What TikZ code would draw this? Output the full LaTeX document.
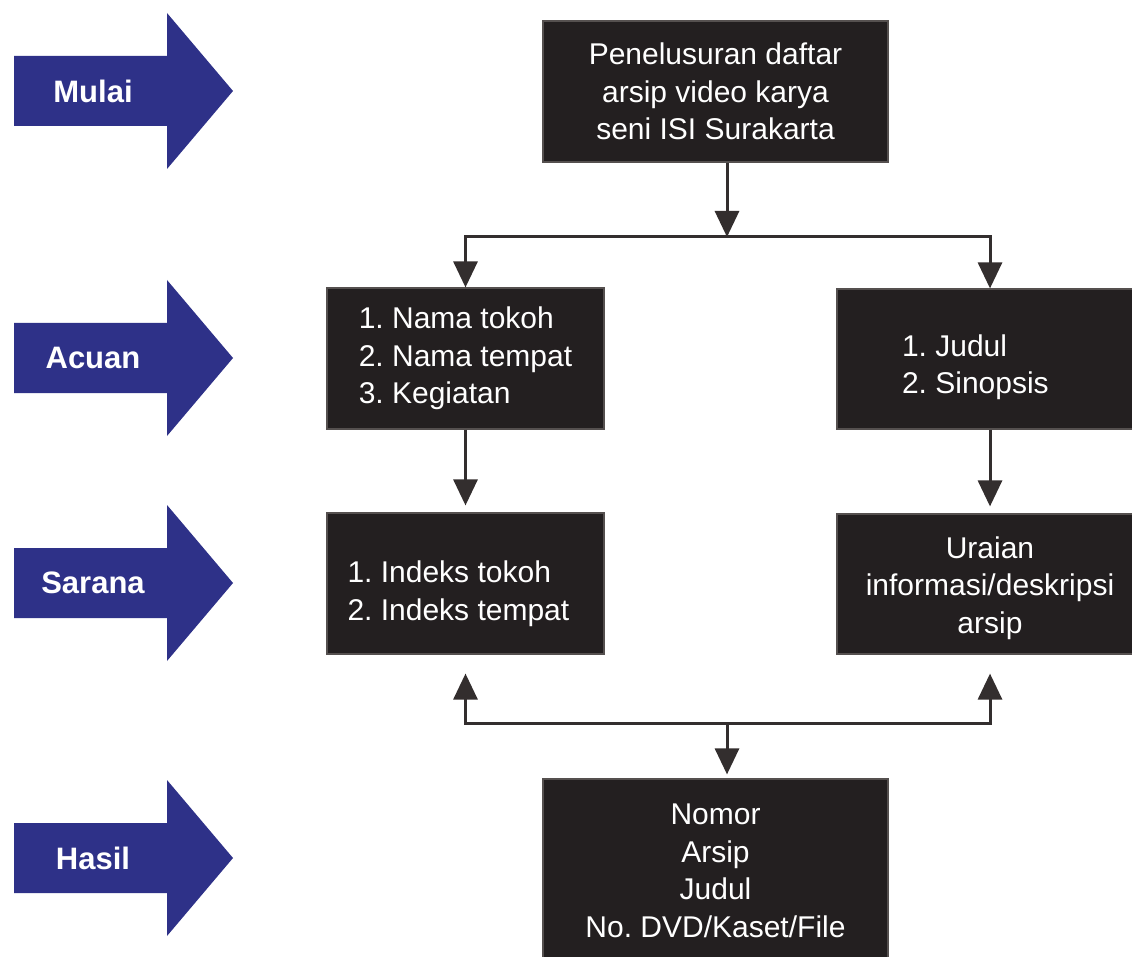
\documentclass[tikz,border=0pt]{standalone}
\usepackage{fontspec}
\setmainfont{Liberation Sans}
\usetikzlibrary{arrows.meta}
\definecolor{stageblue}{HTML}{2E3188}
\definecolor{boxfill}{HTML}{231F20}
\definecolor{boxedge}{HTML}{55504F}
\definecolor{linecol}{HTML}{332E2E}
\frenchspacing
\newcommand\shiftdown[2]{\raisebox{-#1}[\height][\depth]{#2}}
\begin{document}
\begin{tikzpicture}[x=1pt,y=-1pt,
  box/.style={draw=boxedge, line width=1.2pt, fill=boxfill, text=white,
    font=\fontsize{30}{37.5}\selectfont, inner sep=0pt},
  conn/.style={draw=linecol, line width=3pt, -{Triangle[width=24pt,length=26pt]}},
  stagelabel/.style={text=white, font=\bfseries\fontsize{31}{36}\selectfont, inner sep=0pt},
  stagearrow/.pic={\fill[stageblue] (0,-35) -- (153,-35) -- (153,-78) -- (219,0)
     -- (153,78) -- (153,35) -- (0,35) -- cycle;}
]
\clip (0,0) rectangle (1132,957);
\fill[white] (0,0) rectangle (1132,957);

% stage arrows
\pic at (14,91) {stagearrow};
\node[stagelabel] (mulai) at (93,91) {Mulai};
\pic at (14,358) {stagearrow};
\node[stagelabel] (acuan) at (93,358) {Acuan};
\pic at (14,583) {stagearrow};
\node[stagelabel] (sarana) at (93,583) {Sarana};
\pic at (14,858) {stagearrow};
\node[stagelabel] (hasillbl) at (93,858) {Hasil};

% boxes
\node[box, minimum width=345pt, minimum height=141pt, align=center] (start) at (715.5,91.5)
  {Penelusuran daftar\\arsip video karya\\seni ISI Surakarta};
\node[box, minimum width=277pt, minimum height=141pt, align=left] (acuanL) at (465.5,358.5)
  {1. Nama tokoh\\2. Nama tempat\\3. Kegiatan};
\node[box, minimum width=306pt, minimum height=140pt] (acuanR) at (990,359)
  {\shiftdown{8pt}{\parbox{176pt}{1. Judul\\2. Sinopsis}}};
\node[box, minimum width=277pt, minimum height=141pt] (saranaL) at (465.5,583.5)
  {\shiftdown{10pt}{\parbox{236pt}{1. Indeks tokoh\\2. Indeks tempat}}};
\node[box, minimum width=306pt, minimum height=140pt] (saranaR) at (990,584)
  {\shiftdown{4pt}{\parbox{300pt}{\centering Uraian\\informasi/deskripsi\\arsip}}};
\node[box, minimum width=345pt, minimum height=184pt, align=center] (hasil) at (715.5,871)
  {Nomor\\Arsip\\Judul\\No. DVD/Kaset/File};

% connectors
\coordinate (j1) at (727,237);
\coordinate (j2) at (727,723);
\draw[conn] (start.south -| j1) -- (j1);
\draw[conn] (j1) -| (acuanL.north);
\draw[conn] (j1) -| (acuanR.north);
\draw[conn, shorten >=7pt] (acuanL.south) -- (saranaL.north);
\draw[conn, shorten >=7pt] (acuanR.south) -- (saranaR.north);
\draw[conn, shorten >=19pt] (j2) -| (saranaL.south);
\draw[conn, shorten >=19pt] (j2) -| (saranaR.south);
\draw[conn, shorten >=4pt] (j2) -- (j2 |- hasil.north);
\end{tikzpicture}
\end{document}
